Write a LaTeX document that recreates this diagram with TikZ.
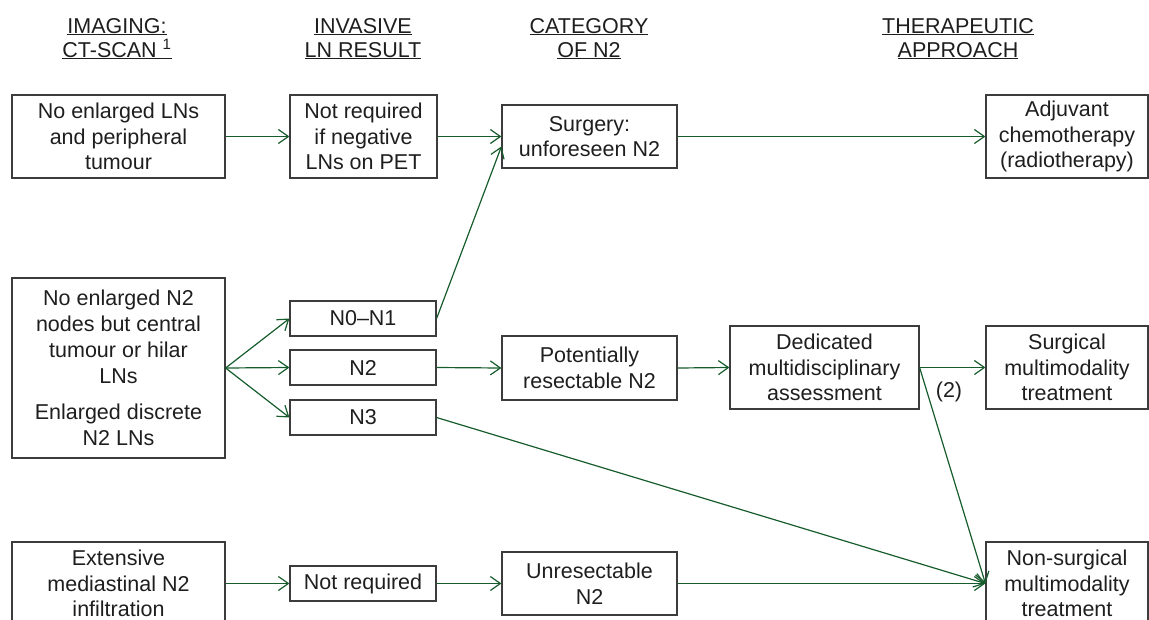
\documentclass[tikz,border=0pt]{standalone}
\usepackage{fontspec}
\setmainfont{Liberation Sans}
\usetikzlibrary{arrows.meta}
\definecolor{arrowgreen}{RGB}{22,92,44}
\definecolor{boxgray}{RGB}{60,60,60}
\definecolor{txtgray}{RGB}{30,30,30}
\begin{document}
\begin{tikzpicture}[x=1pt,y=-1pt,
  every node/.style={text=txtgray,font=\fontsize{21.5}{25.7}\selectfont},
  box/.style={draw=boxgray,line width=1.2pt,inner sep=0pt,align=center},
  hdr/.style={anchor=base,inner sep=0pt},
  conn/.style={draw=arrowgreen,line width=1.2pt,-{Straight Barb[length=10pt,width=14pt,line width=1.2pt]}}]
\useasboundingbox (0,0) rectangle (1149,619);
% headers
\node[hdr] (h1a) at (117,33) {\underline{IMAGING:}};
\node[hdr] (h1b) at (117,57) {\underline{CT-SCAN \textsuperscript{1}}};
\node[hdr] (h2a) at (363,33) {\underline{INVASIVE}};
\node[hdr] (h2b) at (363,57) {\underline{LN RESULT}};
\node[hdr] (h3a) at (589,33) {\underline{CATEGORY}};
\node[hdr] (h3b) at (589,57) {\underline{OF N2}};
\node[hdr] (h4a) at (958,33) {\underline{THERAPEUTIC}};
\node[hdr] (h4b) at (958,57) {\underline{APPROACH}};
% row 1
\node[box,minimum width=213pt,minimum height=83pt] (A1) at (118.5,136.5) {No enlarged LNs\\and peripheral\\tumour};
\node[box,minimum width=147pt,minimum height=83pt] (B1) at (363.5,136.5) {Not required\\if negative\\LNs on PET};
\node[box,minimum width=175pt,minimum height=63pt] (C1) at (589.5,136.5) {Surgery:\\unforeseen N2};
\node[box,minimum width=162pt,minimum height=83pt] (D1) at (1067,136.5) {Adjuvant\\chemotherapy\\(radiotherapy)};
% row 2
\node[box,minimum width=213pt,minimum height=180pt] (A2) at (118.5,368) {No enlarged N2\\nodes but central\\tumour or hilar\\LNs\\[11pt]Enlarged discrete\\N2 LNs};
\node[box,minimum width=146pt,minimum height=35pt] (B2a) at (363,318.5) {N0--N1};
\node[box,minimum width=146pt,minimum height=35pt] (B2b) at (363,367.5) {N2};
\node[box,minimum width=146pt,minimum height=35pt] (B2c) at (363,417.5) {N3};
\node[box,minimum width=175pt,minimum height=64pt] (C2) at (589.5,368) {Potentially\\resectable N2};
\node[box,minimum width=189pt,minimum height=83pt] (E2) at (824.5,367.5) {Dedicated\\multidisciplinary\\assessment};
\node[box,minimum width=162pt,minimum height=83pt] (D2) at (1067,367.5) {Surgical\\multimodality\\treatment};
% row 3
\node[box,minimum width=213pt,minimum height=83pt] (A3) at (118.5,583.5) {Extensive\\mediastinal N2\\infiltration};
\node[box,minimum width=146pt,minimum height=35pt] (B3) at (363,583.5) {Not required};
\node[box,minimum width=175pt,minimum height=63pt] (C3) at (589.5,583.5) {Unresectable\\N2};
\node[box,minimum width=162pt,minimum height=83pt] (D3) at (1067,583.5) {Non-surgical\\multimodality\\treatment};
\node[inner sep=0pt] (lbl2) at (949,392) {(2)};
% connectors
\draw[conn] (A1.east) -- (B1.west);
\draw[conn] (B1.east) -- (C1.west);
\draw[conn] (C1.east) -- (D1.west);
\draw[conn] (A2.east) -- (B2a.west);
\draw[conn] (A2.east) -- (B2b.west);
\draw[conn] (A2.east) -- (B2c.west);
\draw[conn] (B2a.east) -- ([yshift=-10pt]C1.west);
\draw[conn] (B2b.east) -- (C2.west);
\draw[conn] (C2.east) -- (E2.west);
\draw[conn] (E2.east) -- (D2.west);
\draw[conn] (E2.east) -- (D3.west);
\draw[conn] (B2c.east) -- (D3.west);
\draw[conn] (A3.east) -- (B3.west);
\draw[conn] (B3.east) -- (C3.west);
\draw[conn] (C3.east) -- (D3.west);
\end{tikzpicture}
\end{document}
